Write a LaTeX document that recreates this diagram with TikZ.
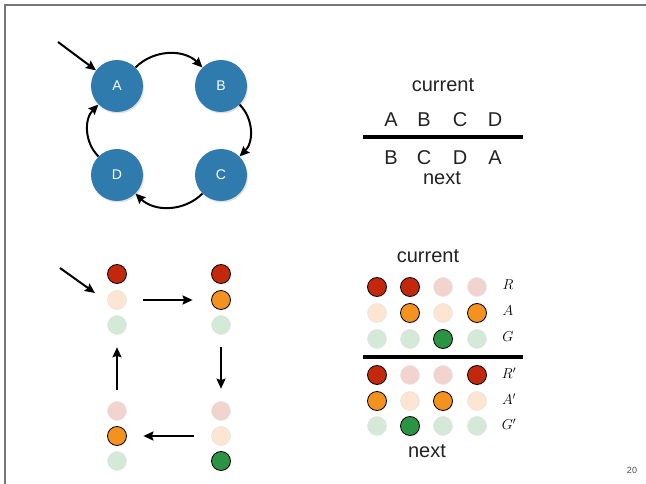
\documentclass[tikz,border=0pt]{standalone}
\usepackage{fontspec}
\setmainfont{Liberation Sans}
\usetikzlibrary{arrows.meta,shadows}
\definecolor{nodeblue}{HTML}{2F7BAE}
\definecolor{ron}{HTML}{C4280C}
\definecolor{aon}{HTML}{F3921E}
\definecolor{gon}{HTML}{2B9443}
\definecolor{roff}{HTML}{F2D3CE}
\definecolor{aoff}{HTML}{FCE6D1}
\definecolor{goff}{HTML}{D4E9D8}
\definecolor{framegray}{HTML}{767676}
\definecolor{txt}{HTML}{222222}
\tikzset{
  statenode/.style={circle, fill=nodeblue, minimum size=52pt, inner sep=0pt, text=white,
    font=\fontsize{14}{14}\selectfont,
    drop shadow={opacity=0.25, shadow xshift=1pt, shadow yshift=-1.5pt}},
  arr/.style={line width=2pt, -{Stealth[length=10pt,width=9pt,inset=1.5pt]}},
  lighton/.style={circle, minimum size=19pt, inner sep=0pt, draw=black, line width=0.8pt,
    drop shadow={opacity=0.2, shadow xshift=0.5pt, shadow yshift=-1pt}},
  lightoff/.style={circle, minimum size=19pt, inner sep=0pt, draw=black!10, line width=0.6pt},
  bigtxt/.style={anchor=base, inner sep=0pt, text=txt, font=\fontsize{20}{20}\selectfont},
  mathlbl/.style={anchor=base, inner sep=0pt, font=\fontsize{14.5}{14.5}\selectfont},
  rule/.style={line width=4pt},
  framestyle/.style={draw=framegray, line width=1.5pt}
}
\begin{document}
\begin{tikzpicture}[x=1pt,y=1pt]
\useasboundingbox (0,0) rectangle (646,484);
% slide frame
\coordinate (f1) at (5,0);
\coordinate (f2) at (5,479);
\coordinate (f3) at (646,479);
\draw[framestyle] (f1) -- (f2) -- (f3);

% ---- top state graph
\node[statenode] (A) at (117,398) {A};
\node[statenode] (B) at (221,398) {B};
\node[statenode] (C) at (221,309) {C};
\node[statenode] (D) at (117,309) {D};
\coordinate (s1) at (58,442);
\draw[arr] (s1) -- (A);
\draw[arr] (A) to[bend left=45] (B);
\draw[arr] (B) to[bend left=45] (C);
\draw[arr] (C) to[bend left=45] (D);
\draw[arr] (D) to[bend left=45] (A);

% ---- top table
\node[bigtxt] (cur1) at (443,392) {current};
\node[bigtxt] (h1) at (391,357) {A};
\node[bigtxt] (h2) at (424,357) {B};
\node[bigtxt] (h3) at (460,357) {C};
\node[bigtxt] (h4) at (495,357) {D};
\coordinate (r1a) at (363,347);
\coordinate (r1b) at (523,347);
\draw[rule] (r1a) -- (r1b);
\node[bigtxt] (n1) at (391,319) {B};
\node[bigtxt] (n2) at (424,319) {C};
\node[bigtxt] (n3) at (460,319) {D};
\node[bigtxt] (n4) at (495,319) {A};
\node[bigtxt] (next1) at (442,299) {next};

% ---- traffic light states
% column 1 (top-left): R on
\node[lighton, fill=ron] (l1r) at (117,210) {};
\node[lightoff, fill=aoff] (l1a) at (117,184) {};
\node[lightoff, fill=goff] (l1g) at (117,159) {};
% column 2 (top-right): R+A on
\node[lighton, fill=ron] (l2r) at (221,210) {};
\node[lighton, fill=aon] (l2a) at (221,184) {};
\node[lightoff, fill=goff] (l2g) at (221,159) {};
% column 3 (bottom-left): A on
\node[lightoff, fill=roff] (l3r) at (117,73) {};
\node[lighton, fill=aon] (l3a) at (117,48) {};
\node[lightoff, fill=goff] (l3g) at (117,23) {};
% column 4 (bottom-right): G on
\node[lightoff, fill=roff] (l4r) at (221,73) {};
\node[lightoff, fill=aoff] (l4a) at (221,48) {};
\node[lighton, fill=gon] (l4g) at (221,23) {};

\coordinate (s2) at (60,216);
\coordinate (e2) at (95,191);
\draw[arr] (s2) -- (e2);
\draw[arr, shorten <=16.5pt, shorten >=18.5pt] (l1a) -- (l2a);
\draw[arr, shorten <=12.5pt, shorten >=12.5pt] (l2g) -- (l4r);
\draw[arr, shorten <=17.5pt, shorten >=16.5pt] (l4a) -- (l3a);
\draw[arr, shorten <=11.5pt, shorten >=12.5pt] (l3r) -- (l1g);

% ---- bottom table
\node[bigtxt] (cur2) at (428,221) {current};
% current R row
\node[lighton, fill=ron]   (cr1) at (377,197) {};
\node[lighton, fill=ron]   (cr2) at (410,197) {};
\node[lightoff, fill=roff] (cr3) at (443,197) {};
\node[lightoff, fill=roff] (cr4) at (477,197) {};
% current A row
\node[lightoff, fill=aoff] (ca1) at (377,171) {};
\node[lighton, fill=aon]   (ca2) at (410,171) {};
\node[lightoff, fill=aoff] (ca3) at (443,171) {};
\node[lighton, fill=aon]   (ca4) at (477,171) {};
% current G row
\node[lightoff, fill=goff] (cg1) at (377,145) {};
\node[lightoff, fill=goff] (cg2) at (410,145) {};
\node[lighton, fill=gon]   (cg3) at (443,145) {};
\node[lightoff, fill=goff] (cg4) at (477,145) {};
\node[mathlbl] (lr) at (508,194) {$R$};
\node[mathlbl] (la) at (508,168) {$A$};
\node[mathlbl] (lg) at (508,142) {$G$};

\coordinate (r2a) at (363,127);
\coordinate (r2b) at (523,127);
\draw[rule] (r2a) -- (r2b);

% next R' row
\node[lighton, fill=ron]   (nr1) at (377,109) {};
\node[lightoff, fill=roff] (nr2) at (410,109) {};
\node[lightoff, fill=roff] (nr3) at (443,109) {};
\node[lighton, fill=ron]   (nr4) at (477,109) {};
% next A' row
\node[lighton, fill=aon]   (na1) at (377,83) {};
\node[lightoff, fill=aoff] (na2) at (410,83) {};
\node[lighton, fill=aon]   (na3) at (443,83) {};
\node[lightoff, fill=aoff] (na4) at (477,83) {};
% next G' row
\node[lightoff, fill=goff] (ng1) at (377,58) {};
\node[lighton, fill=gon]   (ng2) at (410,58) {};
\node[lightoff, fill=goff] (ng3) at (443,58) {};
\node[lightoff, fill=goff] (ng4) at (477,58) {};
\node[mathlbl] (lr2) at (509,105) {$R'$};
\node[mathlbl] (la2) at (509,79) {$A'$};
\node[mathlbl] (lg2) at (509,54) {$G'$};
\node[bigtxt] (next2) at (427,26) {next};

% page number
\node[anchor=base, inner sep=0pt, text=black!70, font=\fontsize{9}{9}\selectfont] (pg) at (632,10) {20};
\end{tikzpicture}
\end{document}
